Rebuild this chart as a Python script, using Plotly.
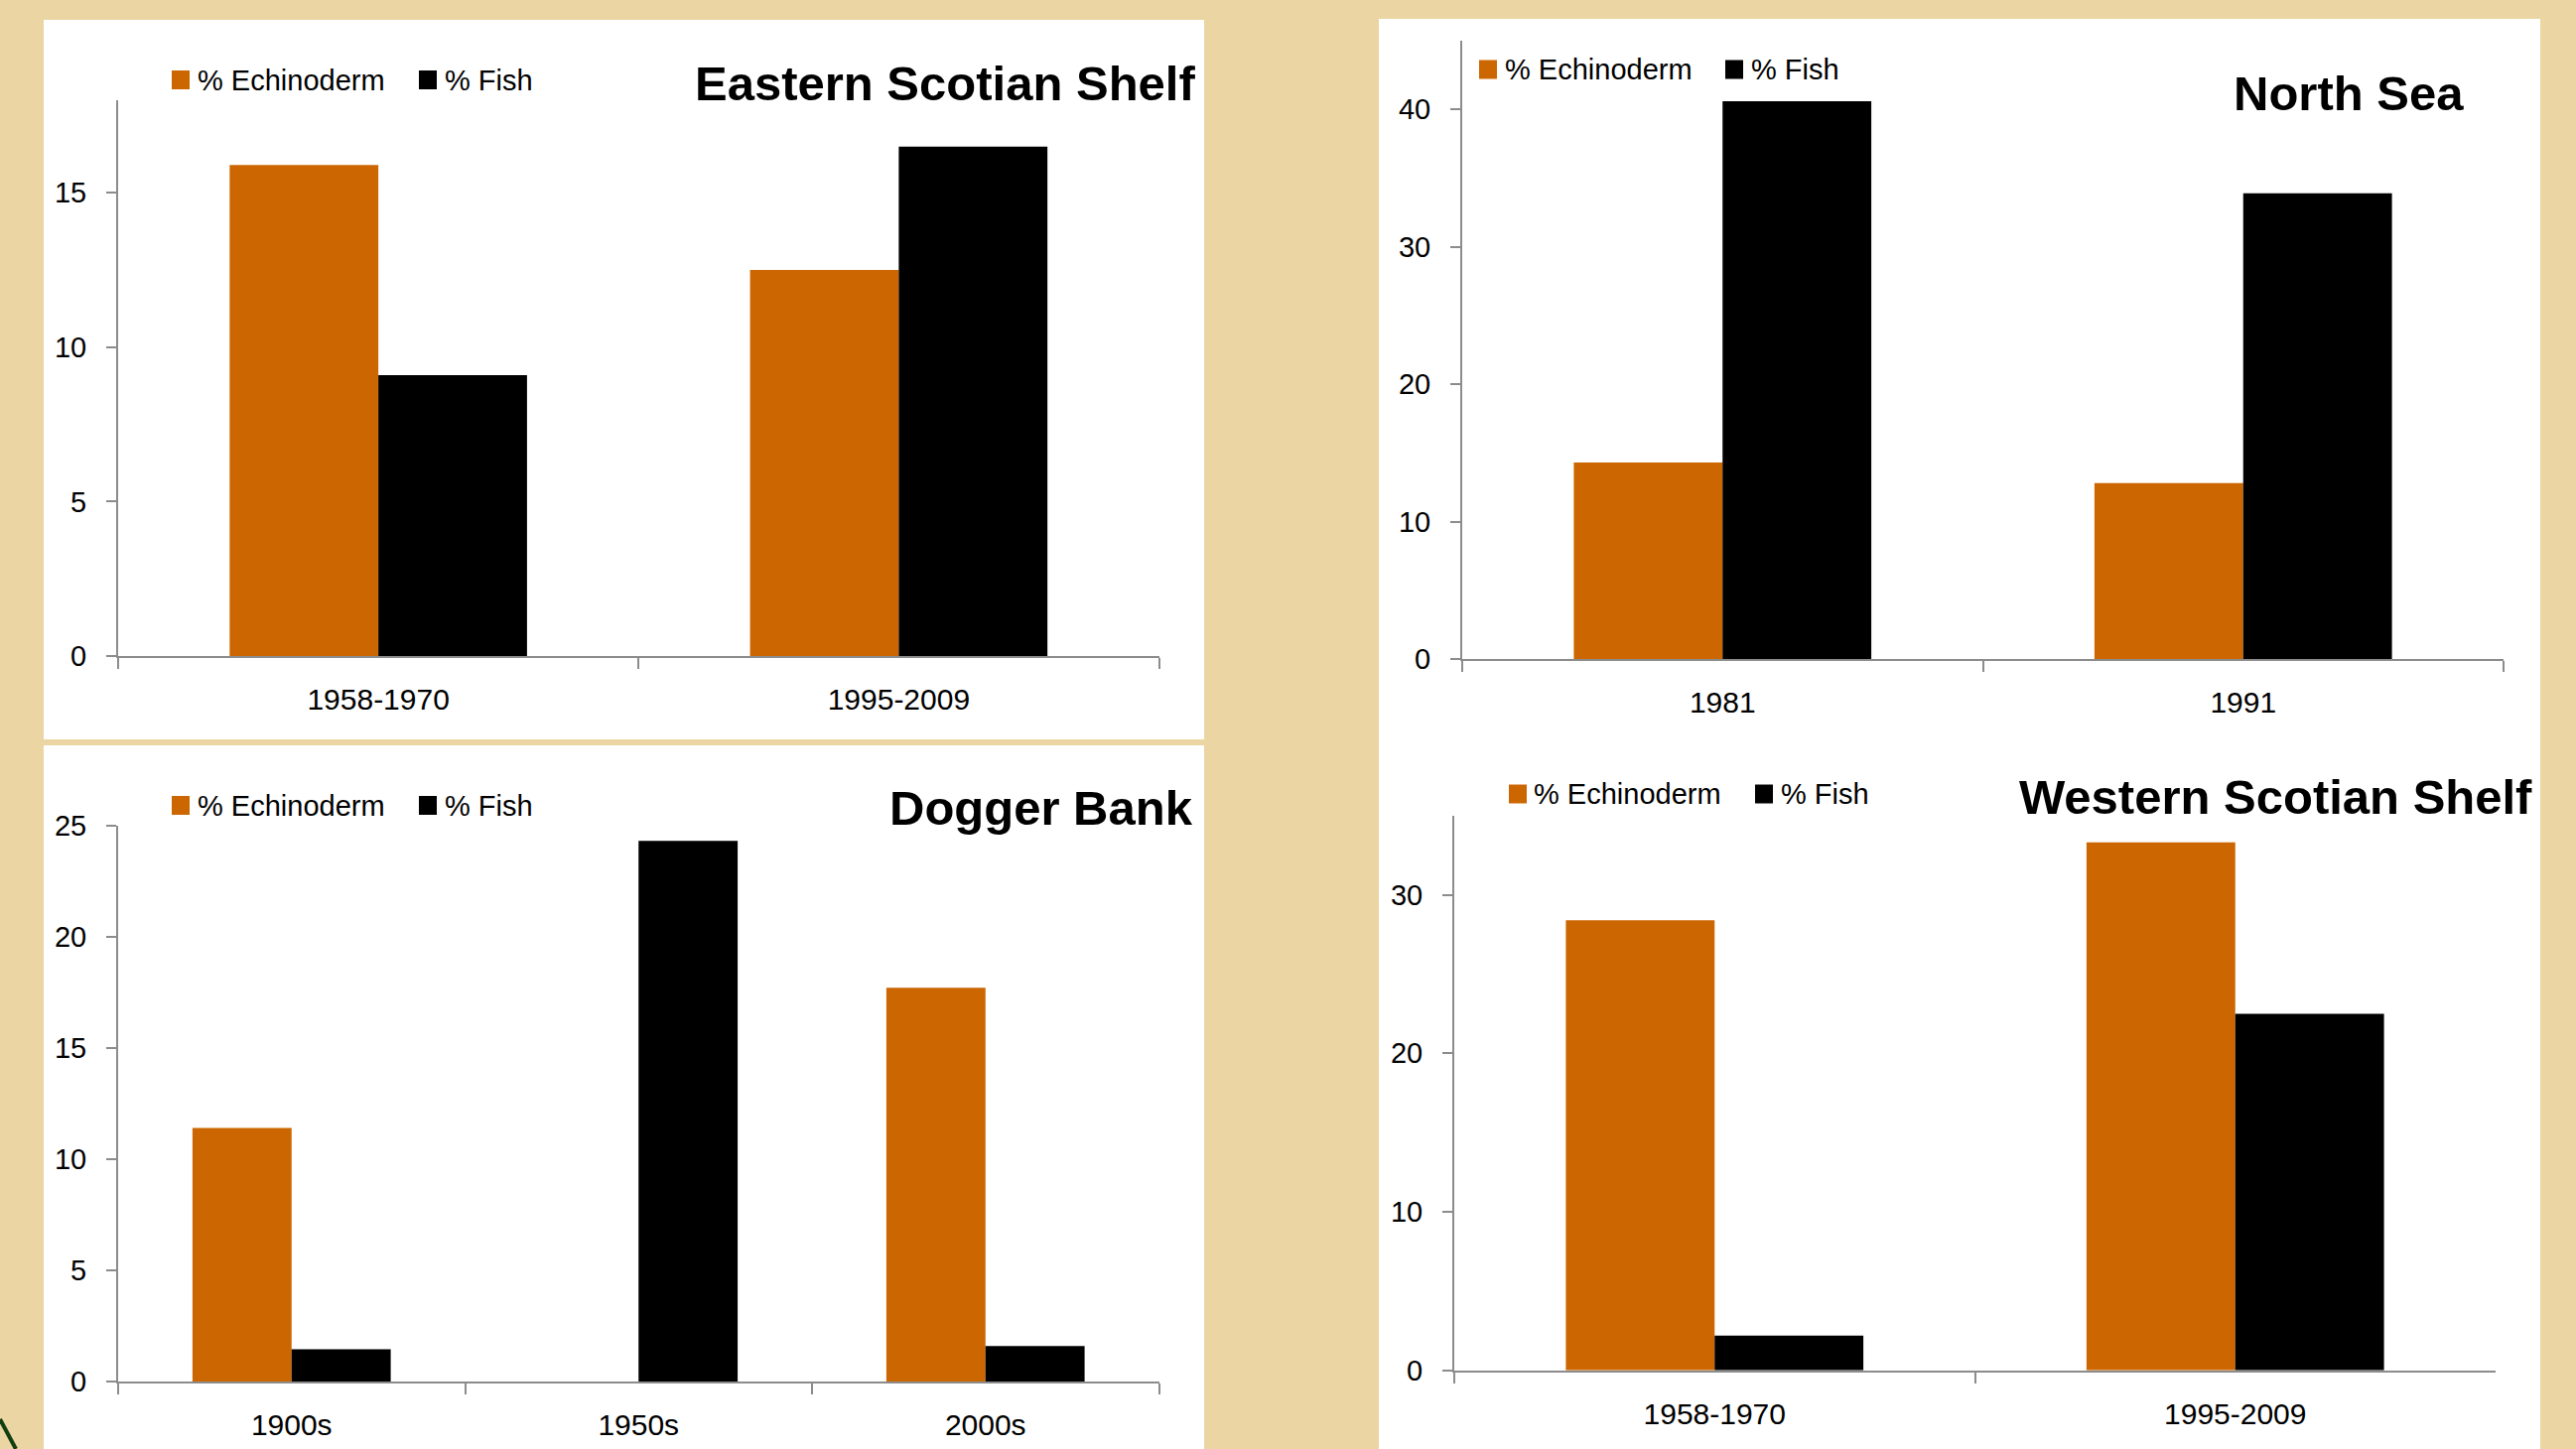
import plotly.graph_objects as go

# ---------------- data ----------------
esc_periods = ["1958-1970", "1995-2009"]
esc_echinoderm = [15.9, 12.5]
esc_fish = [9.1, 16.5]

ns_years = ["1981", "1991"]
ns_echinoderm = [14.3, 12.8]
ns_fish = [40.6, 33.9]

db_decades = ["1900s", "1950s", "2000s"]
db_echinoderm = [11.4, 0, 17.7]
db_fish = [1.45, 24.3, 1.6]

wss_periods = ["1958-1970", "1995-2009"]
wss_echinoderm = [28.4, 33.3]
wss_fish = [2.2, 22.5]

series_names = ["% Echinoderm", "% Fish"]
titles = ["Eastern Scotian Shelf", "North Sea", "Dogger Bank", "Western Scotian Shelf"]

# ---------------- style ----------------
W, H = 2595, 1460
ECH = "#CC6600"
FISH = "#000000"
AXIS = "#8C8C8C"
BG = "#EBD6A3"
FONT = "Liberation Sans, Arial, sans-serif"


def px(x):
    return x / W


def py(y):
    return 1 - y / H


panels = [
    dict(cats=esc_periods, ech=esc_echinoderm, fish=esc_fish,
         xd=(119, 1167.5), yd=(101, 661), yr=18, dt=5,
         title_xy=(1206, 84), leg=(173, 199, 422, 448, 80.5)),
    dict(cats=ns_years, ech=ns_echinoderm, fish=ns_fish,
         xd=(1473, 2522), yd=(41, 664), yr=45, dt=10,
         title_xy=(2484, 94), leg=(1490, 1516, 1738, 1764, 70)),
    dict(cats=db_decades, ech=db_echinoderm, fish=db_fish,
         xd=(119, 1167.5), yd=(831.5, 1392), yr=25, dt=5,
         title_xy=(1204, 814), leg=(173, 199, 422, 448, 811.5)),
    dict(cats=wss_periods, ech=wss_echinoderm, fish=wss_fish,
         xd=(1465, 2514), yd=(821.7, 1380.8), yr=35, dt=10,
         title_xy=(2553, 803), leg=(1520, 1545, 1768, 1794, 800)),
]

fig = go.Figure()
shapes = []
annotations = []

# white panels
for (x0, y0, x1, y1) in [(44, 20, 1213, 745), (44, 751, 1213, 1460), (1389, 19, 2559, 1460)]:
    shapes.append(dict(type="rect", xref="paper", yref="paper", layer="below",
                       x0=px(x0), x1=px(x1), y0=py(y1), y1=py(y0),
                       fillcolor="white", line=dict(width=0)))

# decorative green stroke bottom-left
shapes.append(dict(type="line", xref="paper", yref="paper",
                   x0=px(0), y0=py(1430), x1=px(16), y1=py(1460),
                   line=dict(color="#123F12", width=4)))

layout_axes = {}
for i, p in enumerate(panels):
    n = "" if i == 0 else str(i + 1)
    xa, ya = "x" + n, "y" + n
    fig.add_trace(go.Bar(x=p["cats"], y=p["ech"], name=series_names[0],
                         marker=dict(color=ECH, line=dict(width=0)),
                         xaxis=xa, yaxis=ya, showlegend=False))
    fig.add_trace(go.Bar(x=p["cats"], y=p["fish"], name=series_names[1],
                         marker=dict(color=FISH, line=dict(width=0)),
                         xaxis=xa, yaxis=ya, showlegend=False))
    layout_axes["xaxis" + n] = dict(
        domain=[px(p["xd"][0]), px(p["xd"][1])], anchor=ya,
        type="category", range=[-0.5, len(p["cats"]) - 0.5],
        showline=True, linecolor=AXIS, linewidth=2,
        ticks="outside", tickson="boundaries", ticklen=11, tickwidth=2, tickcolor=AXIS,
        showgrid=False, zeroline=False, automargin=False,
        tickfont=dict(family=FONT, size=30, color="#000"),
        ticklabelstandoff=16, fixedrange=True)
    layout_axes["yaxis" + n] = dict(
        domain=[py(p["yd"][1]), py(p["yd"][0])], anchor=xa,
        range=[0, p["yr"]], dtick=p["dt"], tick0=0,
        showline=True, linecolor=AXIS, linewidth=2,
        ticks="outside", ticklen=10, tickwidth=2, tickcolor=AXIS,
        showgrid=False, zeroline=False, automargin=False,
        tickfont=dict(family=FONT, size=29, color="#000"),
        ticklabelstandoff=14, fixedrange=True)

    tx, ty = p["title_xy"]
    annotations.append(dict(text=titles[i], xref="paper", yref="paper",
                            x=px(tx), y=py(ty), xanchor="right", yanchor="middle",
                            showarrow=False,
                            font=dict(family=FONT, size=49, color="#000", weight="bold")))
    sq1, t1, sq2, t2, ly = p["leg"]
    for sq, tt, col, name in [(sq1, t1, ECH, series_names[0]), (sq2, t2, FISH, series_names[1])]:
        shapes.append(dict(type="rect", xref="paper", yref="paper",
                           x0=px(sq), x1=px(sq + 18), y0=py(ly + 9.5), y1=py(ly - 9.5),
                           fillcolor=col, line=dict(width=0)))
        annotations.append(dict(text=name, xref="paper", yref="paper",
                                x=px(tt - 2), y=py(ly), xanchor="left", yanchor="middle",
                                showarrow=False,
                                font=dict(family=FONT, size=29, color="#000")))

fig.update_layout(
    width=W, height=H, margin=dict(l=0, r=0, t=0, b=0, pad=0, autoexpand=False),
    paper_bgcolor=BG, plot_bgcolor="rgba(0,0,0,0)",
    barmode="group", bargap=0.4286, bargroupgap=0,
    shapes=shapes, annotations=annotations, showlegend=False,
    font=dict(family=FONT),
    **layout_axes)

page_fix = (
    "var s='margin:0;padding:0;overflow:hidden;width:2595px;height:1460px;';"
    "document.documentElement.style.cssText=s;document.body.style.cssText=s;"
    "var g=document.getElementsByClassName('plotly-graph-div')[0];"
    "g.style.position='absolute';g.style.top='0px';g.style.left='0px';"
)

fig.write_html("out.html", config={"displayModeBar": False}, post_script=page_fix)
